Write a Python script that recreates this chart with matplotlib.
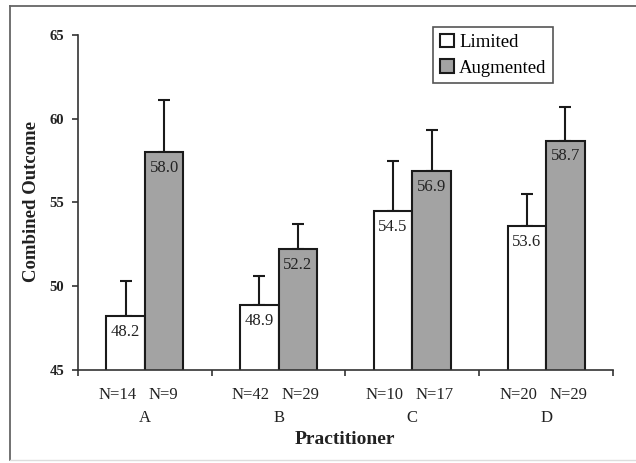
import matplotlib
matplotlib.use("Agg")
import matplotlib.pyplot as plt
from matplotlib.lines import Line2D
import numpy as np

# values
practitioners = ["A", "B", "C", "D"]
limited = [48.2, 48.9, 54.5, 53.6]
augmented = [58.0, 52.2, 56.9, 58.7]
limited_err = [2.1, 1.7, 3.0, 1.9]
augmented_err = [3.1, 1.5, 2.4, 2.0]
n_limited = [14, 42, 10, 20]
n_augmented = [9, 29, 17, 29]

plt.rcParams["font.family"] = ["Liberation Serif", "DejaVu Serif"]

fig = plt.figure(figsize=(6.36, 4.63), dpi=100)
ax = fig.add_axes([0.1226, 0.2009, 0.8412, 0.7235])

x = np.arange(len(practitioners))
width = 0.288
edge = "#1a1a1a"

# Let's draw the two bar series with upper error bars only
ax.bar(x - width / 2, limited, width, color="white", edgecolor=edge,
       linewidth=1.5, label="Limited", zorder=2)
ax.bar(x + width / 2, augmented, width, color="#a3a3a3", edgecolor=edge,
       linewidth=1.5, label="Augmented", zorder=2)
ax.errorbar(x - width / 2, limited, yerr=[np.zeros(4), limited_err], fmt="none",
            ecolor=edge, elinewidth=1.5, capsize=4.5, capthick=1.5, zorder=1)
ax.errorbar(x + width / 2, augmented, yerr=[np.zeros(4), augmented_err], fmt="none",
            ecolor=edge, elinewidth=1.5, capsize=4.5, capthick=1.5, zorder=1)

# value labels just inside the top of each bar
for xi, v in zip(x - width / 2, limited):
    ax.annotate(f"{v:.1f}", (xi, v), xytext=(0, -11.5), textcoords="offset points",
                ha="center", va="center", fontsize=12, color="#222222", zorder=3)
for xi, v in zip(x + width / 2, augmented):
    ax.annotate(f"{v:.1f}", (xi, v), xytext=(0, -11.5), textcoords="offset points",
                ha="center", va="center", fontsize=12, color="#222222", zorder=3)

ax.set_xlim(-0.5, 3.5)
ax.set_ylim(45, 65)
ax.set_yticks([45, 50, 55, 60, 65])
ax.set_xticks(np.arange(-0.5, 4.0, 1.0))
ax.set_xticklabels([])
ax.tick_params(axis="both", direction="out", length=4, width=1.2, colors="#333333")
ax.tick_params(axis="y", labelsize=10.5, labelcolor="#222222", pad=6)
for lbl in ax.get_yticklabels():
    lbl.set_fontweight("bold")

for side in ["top", "right"]:
    ax.spines[side].set_visible(False)
for side in ["left", "bottom"]:
    ax.spines[side].set_color("#333333")
    ax.spines[side].set_linewidth(1.2)

# category labels under the axis
for i, name in enumerate(practitioners):
    ax.annotate(f"N={n_limited[i]}", (i - 0.065, 0), xycoords=("data", "axes fraction"),
                xytext=(0, -18), textcoords="offset points", ha="right", va="center",
                fontsize=12, color="#222222")
    ax.annotate(f"N={n_augmented[i]}", (i + 0.025, 0), xycoords=("data", "axes fraction"),
                xytext=(0, -18), textcoords="offset points", ha="left", va="center",
                fontsize=12, color="#222222")
    ax.annotate(name, (i, 0), xycoords=("data", "axes fraction"),
                xytext=(0, -34.5), textcoords="offset points", ha="center", va="center",
                fontsize=12, color="#222222")

fig.text(345 / 636, 1 - 440 / 463, "Practitioner", ha="center", va="center",
         fontsize=14, fontweight="bold", color="#222222")
fig.text(31 / 636, 1 - 201 / 463, "Combined Outcome", ha="center", va="center",
         rotation=90, fontsize=13.5, fontweight="bold", color="#222222")

leg = ax.legend(loc="upper left", bbox_to_anchor=(433 / 636, 1 - 27 / 463),
                bbox_transform=fig.transFigure, borderaxespad=0, fancybox=False,
                fontsize=13.5, handlelength=0.75, handleheight=0.75, handletextpad=0.3,
                borderpad=0.35, labelspacing=0.45, framealpha=1)
leg.get_frame().set_edgecolor("#555555")
leg.get_frame().set_linewidth(1.2)

# outer frame around the chart (right edge is cut off in the reference)
frame_kw = dict(color="#666666", linewidth=1.3, transform=fig.transFigure)
fig.add_artist(Line2D([10 / 636, 10 / 636], [1 - 6 / 463, 1 - 460 / 463], **frame_kw))
fig.add_artist(Line2D([10 / 636, 1.0], [1 - 6 / 463, 1 - 6 / 463], **frame_kw))
fig.add_artist(Line2D([10 / 636, 1.0], [1 - 460 / 463, 1 - 460 / 463], color="#dddddd",
                      linewidth=1.0, transform=fig.transFigure))

fig.savefig("out.png", dpi=100)
